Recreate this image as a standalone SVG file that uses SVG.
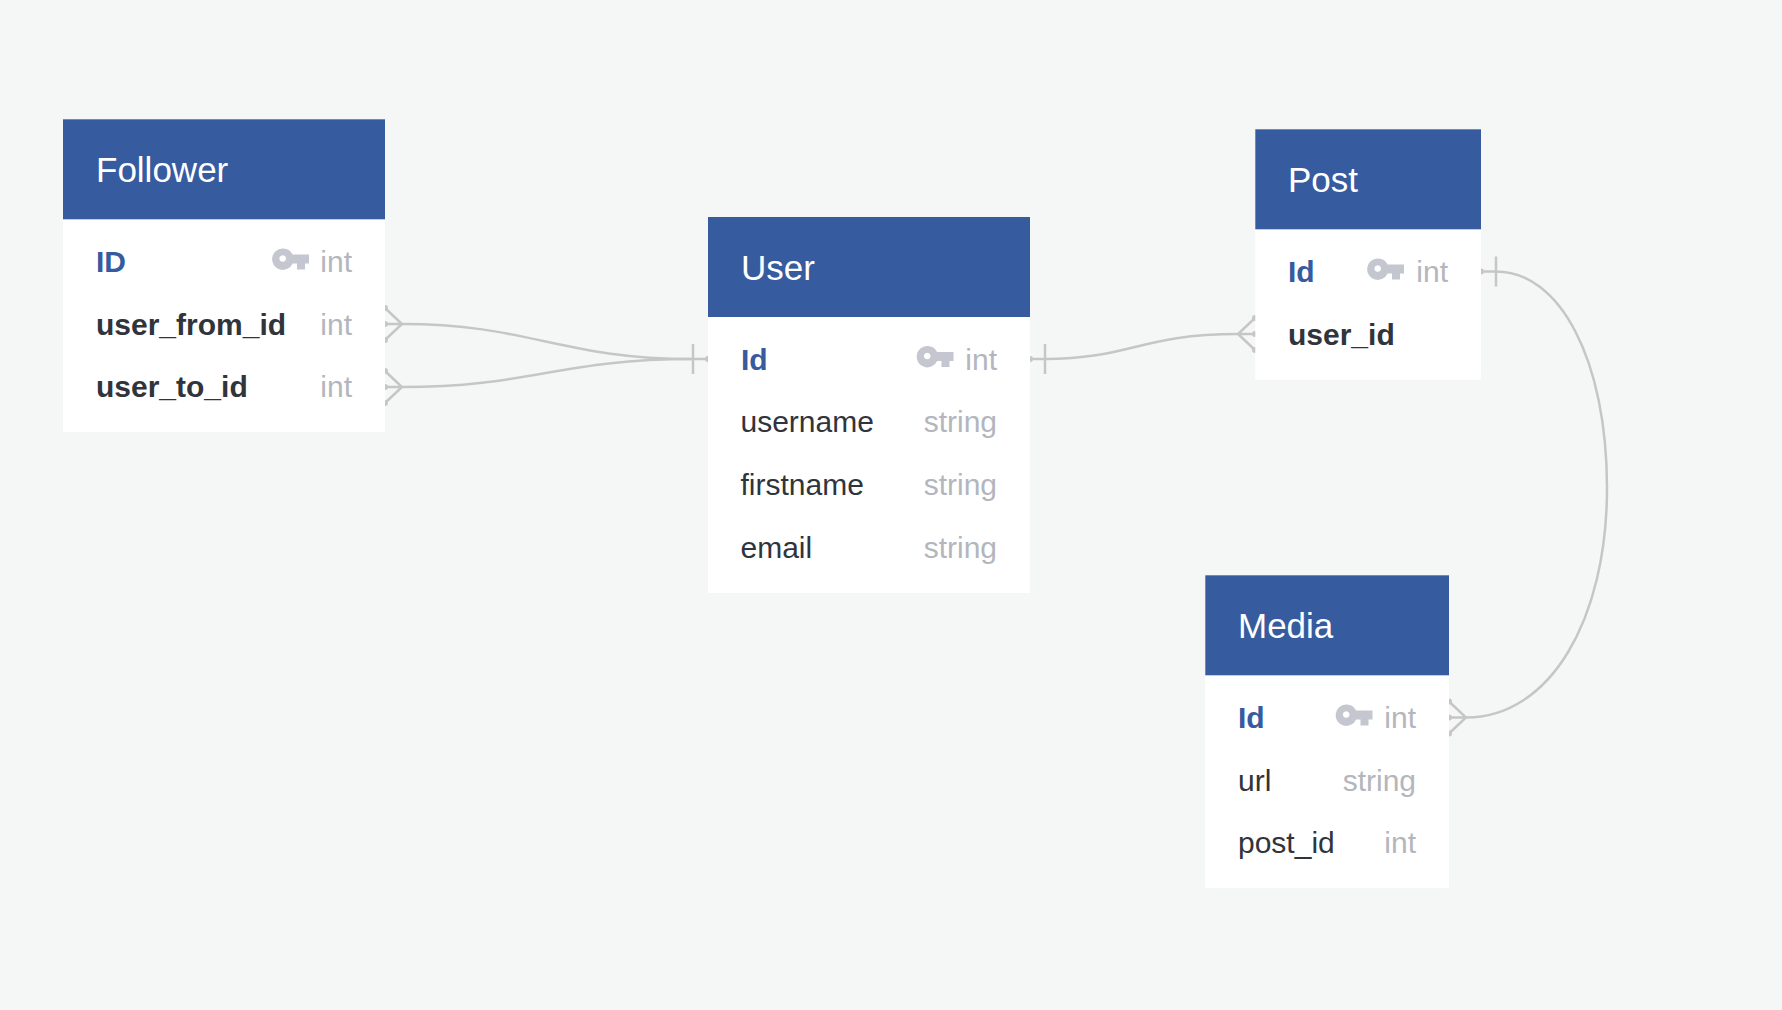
<svg xmlns="http://www.w3.org/2000/svg" width="1782" height="1010" viewBox="0 0 1782 1010">
<style>
text{font-family:"Liberation Sans",Arial,sans-serif}
.hd{fill:#365b9f}
.bd{fill:#fff}
.t{font-size:35px;fill:#fff}
.n{font-size:30px;fill:#30343c}
.b{font-weight:700}
.pk{font-size:30px;font-weight:700;fill:#365b9f}
.ty{font-size:30px;fill:#b3b6bd;text-anchor:end}
.c{fill:none;stroke:#c6c6c6;stroke-width:2.500}
.d{fill:#c6c6c6}
.k{fill:#c4c7cf;fill-rule:evenodd}
</style>
<defs>
<path id="key" class="k" d="M10.500 0A10.700 10.700 0 0 1 20.600 6H37V15H33V21H25V15H20.600A10.700 10.700 0 1 1 10.500 0ZM10.700 6.700a3.300 3.300 0 1 0 .01 0Z"/>
<g id="crow"><path class="c" d="M0 -16L17 0L0 16M0 0H17"/><circle class="d" cx="0" cy="-16" r="3"/><circle class="d" cx="0" cy="0" r="3"/><circle class="d" cx="0" cy="16" r="3"/></g>
<g id="one"><path class="c" d="M0 0H15M15 -15V15"/><circle class="d" cx="0" cy="0" r="3"/></g>
</defs>
<rect width="1782" height="1010" fill="#f5f7f6"/>
<g id="connectors">
<path class="c" d="M402 324C530 324 560 359 693 359"/>
<path class="c" d="M402 387C530 387 560 359 693 359"/>
<path class="c" d="M1045 359C1130 359 1140 334 1238 334"/>
<path class="c" d="M1496 271.500C1560 271.500 1607 360 1607 488C1607 620 1550 717.500 1466 717.500"/>
<use href="#crow" x="385" y="324"/>
<use href="#crow" x="385" y="387"/>
<use href="#one" transform="translate(708 359) scale(-1 1)"/>
<use href="#one" x="1030" y="359"/>
<use href="#crow" transform="translate(1255 334) scale(-1 1)"/>
<use href="#one" x="1481" y="271.500"/>
<use href="#crow" x="1449" y="717.500"/>
</g>
<g id="follower">
<rect class="bd" x="63" y="119.300" width="322" height="312.700"/>
<rect class="hd" x="63" y="119.300" width="322" height="100"/>
<text class="t" x="96" y="182">Follower</text>
<text class="pk" x="96" y="272">ID</text>
<use href="#key" x="272" y="248.500"/>
<text class="ty" x="352" y="272">int</text>
<text class="n b" x="96" y="335">user_from_id</text>
<text class="ty" x="352" y="335">int</text>
<text class="n b" x="96" y="397">user_to_id</text>
<text class="ty" x="352" y="397">int</text>
</g>
<g id="user">
<rect class="bd" x="708" y="217" width="322" height="376"/>
<rect class="hd" x="708" y="217" width="322" height="100"/>
<text class="t" x="741" y="280">User</text>
<text class="pk" x="741" y="370">Id</text>
<use href="#key" x="916.500" y="346"/>
<text class="ty" x="997" y="370">int</text>
<text class="n" x="740.500" y="432">username</text>
<text class="ty" x="997" y="432">string</text>
<text class="n" x="740.500" y="495">firstname</text>
<text class="ty" x="997" y="495">string</text>
<text class="n" x="740.500" y="558">email</text>
<text class="ty" x="997" y="558">string</text>
</g>
<g id="post">
<rect class="bd" x="1255.300" y="129.300" width="225.700" height="250.400"/>
<rect class="hd" x="1255.300" y="129.300" width="225.700" height="100"/>
<text class="t" x="1288" y="192">Post</text>
<text class="pk" x="1288" y="282">Id</text>
<use href="#key" x="1367" y="258.500"/>
<text class="ty" x="1448" y="282">int</text>
<text class="n b" x="1288" y="345">user_id</text>
</g>
<g id="media">
<rect class="bd" x="1205.300" y="575.300" width="243.700" height="312.700"/>
<rect class="hd" x="1205.300" y="575.300" width="243.700" height="100"/>
<text class="t" x="1238" y="638">Media</text>
<text class="pk" x="1238" y="728">Id</text>
<use href="#key" x="1335.500" y="704.500"/>
<text class="ty" x="1416" y="728">int</text>
<text class="n" x="1238" y="791">url</text>
<text class="ty" x="1416" y="791">string</text>
<text class="n" x="1238" y="853">post_id</text>
<text class="ty" x="1416" y="853">int</text>
</g>
</svg>
